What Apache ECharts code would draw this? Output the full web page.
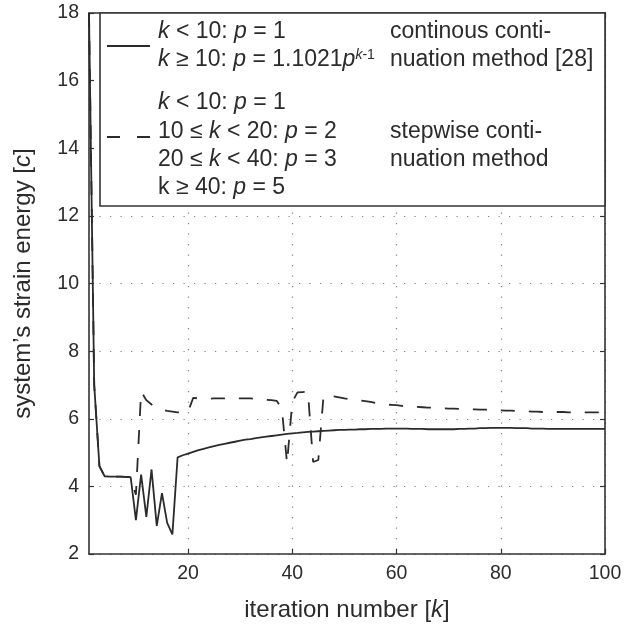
<!DOCTYPE html>
<html>
<head>
<meta charset="utf-8">
<script src="https://cdn.jsdelivr.net/npm/echarts@6/dist/echarts.min.js"></script>
<style>html,body{margin:0;padding:0;background:#fff;}#c{width:633px;height:627px;}</style>
</head>
<body>
<div id="c"></div>
<script>
// iteration numbers k = 1..100
const iterations = [];
for (let k = 1; k <= 100; k++) iterations.push(k);

// continuous continuation method [28] (solid)
const continuousEnergy = [
  18, 7.0, 4.6, 4.3, 4.29, 4.29, 4.29, 4.28, 4.27, 3.0,
  4.35, 3.1, 4.5, 2.83, 3.8, 2.92, 2.58, 4.86, 4.92, 4.97,
  5.02, 5.07, 5.11, 5.15, 5.19, 5.23, 5.26, 5.29, 5.32, 5.35,
  5.38, 5.40, 5.43, 5.45, 5.47, 5.49, 5.51, 5.53, 5.55, 5.57,
  5.58, 5.60, 5.61, 5.62, 5.63, 5.64, 5.65, 5.66, 5.67, 5.67,
  5.68, 5.68, 5.69, 5.69, 5.70, 5.70, 5.70, 5.71, 5.71, 5.71,
  5.71, 5.71, 5.70, 5.70, 5.70, 5.69, 5.69, 5.69, 5.69, 5.69,
  5.69, 5.70, 5.70, 5.71, 5.71, 5.72, 5.72, 5.73, 5.73, 5.73,
  5.73, 5.73, 5.72, 5.72, 5.72, 5.71, 5.71, 5.71, 5.70, 5.70,
  5.70, 5.70, 5.70, 5.70, 5.70, 5.70, 5.70, 5.70, 5.70, 5.70
];

// stepwise continuation method (dashed)
const stepwiseEnergy = [
  18, 7.0, 4.6, 4.3, 4.29, 4.29, 4.29, 4.28, 4.27, 3.75,
  6.8, 6.55, 6.42, 6.33, 6.27, 6.23, 6.21, 6.19, 6.18, 6.2,
  6.62, 6.6, 6.59, 6.59, 6.6, 6.6, 6.6, 6.61, 6.61, 6.6,
  6.6, 6.6, 6.59, 6.58, 6.56, 6.55, 6.53, 6.3, 4.68, 6.5,
  6.78, 6.79, 6.8, 4.72, 4.78, 6.68, 6.67, 6.66, 6.63, 6.6,
  6.58, 6.56, 6.54, 6.52, 6.5, 6.47, 6.44, 6.42, 6.41, 6.4,
  6.38, 6.37, 6.36, 6.35, 6.34, 6.33, 6.33, 6.32, 6.31, 6.3,
  6.3, 6.29, 6.29, 6.28, 6.28, 6.27, 6.27, 6.26, 6.26, 6.25,
  6.24, 6.24, 6.23, 6.22, 6.22, 6.21, 6.21, 6.2, 6.2, 6.2,
  6.2, 6.2, 6.19, 6.19, 6.19, 6.19, 6.19, 6.19, 6.19, 6.19
];

const xTickValues = [20, 40, 60, 80, 100];
const yMin = 2, yMax = 18, yStep = 2;

const FONT = 'Liberation Sans, Arial, Helvetica, sans-serif';
const INK = '#2b2b2b';
const AXIS = '#333333';

const chart = echarts.init(document.getElementById('c'), null, {renderer: 'canvas'});

const gridDots = {show: true, lineStyle: {color: '#808080', width: 1.2, type: [1.2, 9.3]}};

const legendRich = {
  i: {fontStyle: 'italic', fontSize: 23, fontFamily: FONT, color: INK},
  si: {fontStyle: 'italic', fontSize: 14, fontFamily: FONT, color: INK, verticalAlign: 'top'},
  s: {fontSize: 14, fontFamily: FONT, color: INK, verticalAlign: 'top'}
};
function legendText(text, x, y) {
  return {
    type: 'text', z: 110, x: x, y: y,
    style: {text: text, rich: legendRich, fontSize: 23, fontFamily: FONT, fill: INK,
            verticalAlign: 'middle', align: 'left'}
  };
}

const option = {
  animation: false,
  backgroundColor: '#ffffff',
  grid: {left: 89, right: 28, top: 13, bottom: 73, outerBoundsMode: 'none', containLabel: false},
  xAxis: [{
    type: 'value', min: 1, max: 100, position: 'bottom',
    name: 'iteration number [{i|k}]', nameLocation: 'middle', nameGap: 44,
    nameTextStyle: {fontSize: 24, fontFamily: FONT, color: INK,
      rich: {i: {fontStyle: 'italic', fontSize: 24, fontFamily: FONT, color: INK}}},
    axisLine: {show: true, onZero: false, lineStyle: {color: AXIS, width: 1.6}},
    axisTick: {show: true, inside: true, length: 5, customValues: xTickValues, lineStyle: {color: AXIS, width: 1.2}},
    axisLabel: {show: true, customValues: xTickValues, margin: 10, fontSize: 19.5, fontFamily: FONT, color: INK},
    splitLine: gridDots
  }, {
    type: 'value', min: 1, max: 100, position: 'top',
    axisLine: {show: true, onZero: false, lineStyle: {color: AXIS, width: 1.6}},
    axisTick: {show: true, inside: true, length: 5, customValues: xTickValues, lineStyle: {color: AXIS, width: 1.2}},
    axisLabel: {show: false},
    splitLine: {show: false}
  }],
  yAxis: [{
    type: 'value', min: yMin, max: yMax, interval: yStep, position: 'left',
    name: 'system’s strain energy [{i|c}]', nameLocation: 'middle', nameGap: 54,
    nameTextStyle: {fontSize: 24, fontFamily: FONT, color: INK,
      rich: {i: {fontStyle: 'italic', fontSize: 24, fontFamily: FONT, color: INK}}},
    axisLine: {show: true, onZero: false, lineStyle: {color: AXIS, width: 1.6}},
    axisTick: {show: true, inside: true, length: 5, lineStyle: {color: AXIS, width: 1.2}},
    axisLabel: {show: true, margin: 10, fontSize: 19.5, fontFamily: FONT, color: INK},
    splitLine: gridDots
  }, {
    type: 'value', min: yMin, max: yMax, interval: yStep, position: 'right',
    axisLine: {show: true, onZero: false, lineStyle: {color: AXIS, width: 1.6}},
    axisTick: {show: true, inside: true, length: 5, lineStyle: {color: AXIS, width: 1.2}},
    axisLabel: {show: false},
    splitLine: {show: false}
  }],
  series: [{
    name: 'continuous', type: 'line', xAxisIndex: 0, yAxisIndex: 0,
    data: iterations.map((k, i) => [k, continuousEnergy[i]]),
    showSymbol: false, symbol: 'none', clip: true, z: 3,
    lineStyle: {color: INK, width: 1.8, type: 'solid'}
  }, {
    name: 'stepwise', type: 'line', xAxisIndex: 0, yAxisIndex: 0,
    data: iterations.map((k, i) => [k, stepwiseEnergy[i]]),
    showSymbol: false, symbol: 'none', clip: true, z: 2,
    lineStyle: {color: INK, width: 1.8, type: [14, 14]}
  }],
  graphic: [
    {type: 'rect', z: 100, shape: {x: 100, y: 13, width: 505, height: 193},
     style: {fill: '#ffffff', stroke: AXIS, lineWidth: 1.6}},
    {type: 'line', z: 110, shape: {x1: 107, y1: 46, x2: 150, y2: 46},
     style: {stroke: INK, lineWidth: 1.8}},
    {type: 'line', z: 110, shape: {x1: 107, y1: 137, x2: 150, y2: 137},
     style: {stroke: INK, lineWidth: 1.8, lineDash: [13, 17]}},
    legendText('{i|k} < 10: {i|p} = 1', 158, 32),
    legendText('{i|k} ≥ 10: {i|p} = 1.1021{i|p}{si|k}{s|-1}', 158, 60),
    legendText('{i|k} < 10: {i|p} = 1', 158, 103),
    legendText('10 ≤ {i|k} < 20: {i|p} = 2', 158, 132),
    legendText('20 ≤ {i|k} < 40: {i|p} = 3', 158, 160),
    legendText('k ≥ 40: {i|p} = 5', 158, 188),
    legendText('continous conti-', 390, 32),
    legendText('nuation method [28]', 390, 60),
    legendText('stepwise conti-', 390, 132),
    legendText('nuation method', 390, 160)
  ]
};
chart.setOption(option);
</script>
</body>
</html>
